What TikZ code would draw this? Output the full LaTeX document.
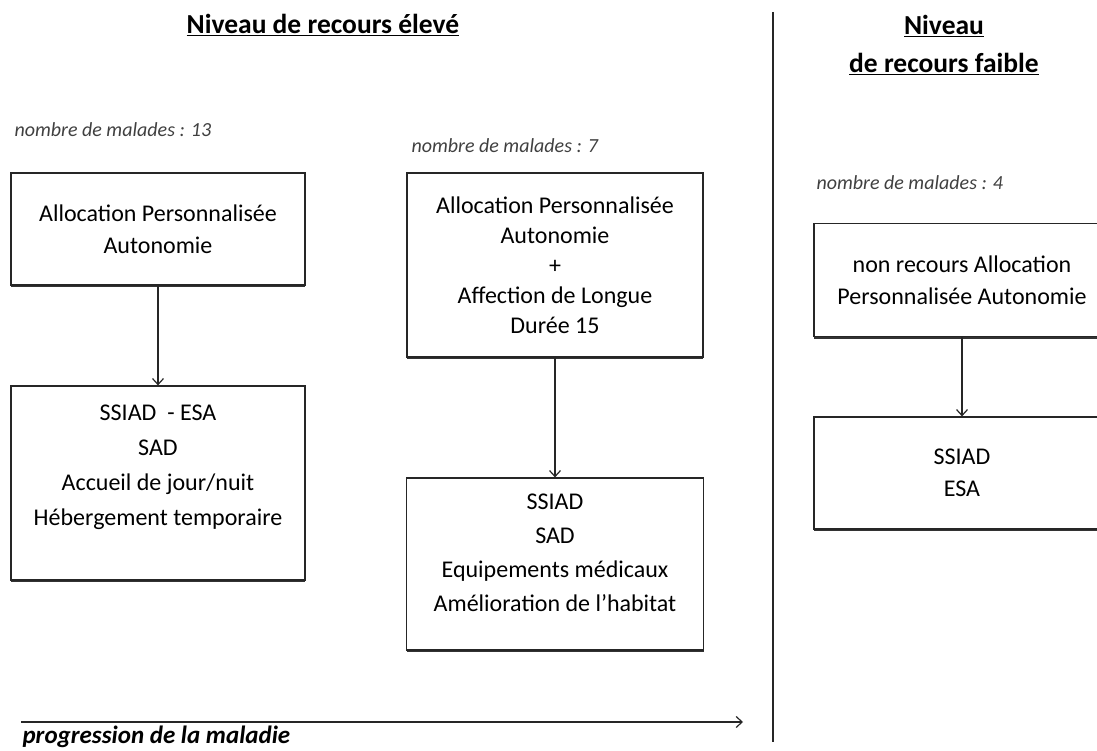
\documentclass[tikz,border=0pt]{standalone}
\usepackage{fontspec}
\setmainfont{Carlito}
\usetikzlibrary{arrows.meta,shadows}

\begin{document}
\begin{tikzpicture}[x=1pt,y=-1pt,>={Straight Barb[length=6pt,width=11pt]},
 box/.style={draw=black!85,fill=white,line width=1.2pt,align=center,inner sep=0pt,minimum width=294pt,
  font=\fontsize{24}{32}\selectfont,drop shadow={shadow xshift=0pt,shadow yshift=-2pt,opacity=1,fill=black!80}},
 nb/.style={anchor=west,font=\fontsize{20}{22}\selectfont\itshape,text=black!75},
 titre/.style={font=\fontsize{27.5}{38}\selectfont\bfseries,align=center},
 lien/.style={->,draw=black!85,line width=1.2pt}]
\useasboundingbox (0,0) rectangle (1097,751);
\node[titre] (t1) at (323,25) {\underline{Niveau de recours élevé}};
\node[titre] (t2) at (944,45) {\underline{Niveau}\\\underline{de recours faible}};
\node[nb] (n1) at (11,130) {nombre de malades : 13};
\node[nb] (n2) at (408,146) {nombre de malades : 7};
\node[nb] (n3) at (813,183) {nombre de malades : 4};
\node[box,minimum height=112pt] (apa) at (158,229) {Allocation Personnalisée\\Autonomie};
\node[box,minimum height=194pt,font=\fontsize{24}{35}\selectfont] (svc1) at (158,483) {SSIAD \ - ESA\\SAD\\Accueil de jour/nuit\\Hébergement temporaire\\~};
\node[box,minimum width=296pt,minimum height=184pt,font=\fontsize{24}{30}\selectfont] (apald) at (555,265) {Allocation Personnalisée\\Autonomie\\+\\Affection de Longue\\Durée 15};
\node[box,minimum width=297pt,minimum height=172pt,font=\fontsize{24}{34}\selectfont] (svc2) at (555,564) {SSIAD\\SAD\\Equipements médicaux\\Amélioration de l’habitat\\[-11pt]~};
\node[box,minimum width=296pt,minimum height=113pt] (nr) at (962,280) {non recours Allocation\\Personnalisée Autonomie};
\node[box,minimum width=296pt,minimum height=112pt] (svc3) at (962,473) {SSIAD\\ESA};
\draw[lien] (apa) -- (svc1);
\draw[lien] (apald) -- (svc2);
\draw[lien] (nr) -- (svc3);
% separation des niveaux
\coordinate (sh) at (773,12); \coordinate (sb) at (773,742);
\draw[draw=black!85,line width=1.5pt] (sh) -- (sb);
\coordinate (pd) at (21,722); \coordinate (pf) at (743,722);
\draw[lien] (pd) -- (pf);
\node[anchor=west,font=\fontsize{25}{30}\selectfont\bfseries\itshape] (prog) at (19,737) {progression de la maladie};
\end{tikzpicture}
\end{document}
